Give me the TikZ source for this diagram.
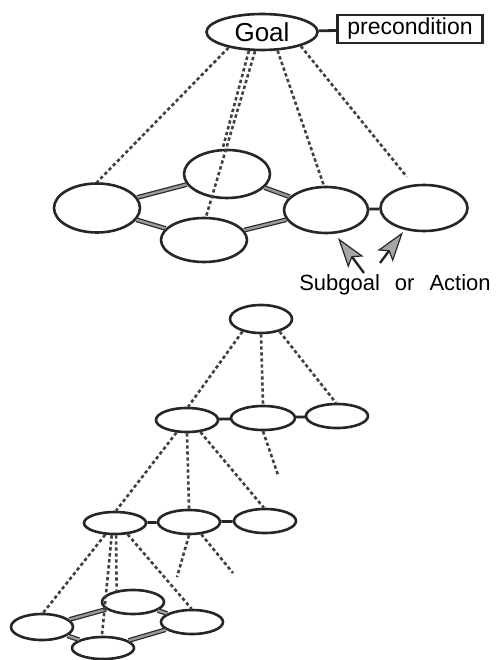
\documentclass[tikz,border=0pt]{standalone}
\usepackage{fontspec}
\setmainfont{Liberation Sans}
\usetikzlibrary{shapes.geometric,arrows.meta}

\begin{document}
\begin{tikzpicture}[x=1pt, y=-1pt, >=stealth, thick,
  bigoval/.style={draw=black!85, line width=2.6pt, ellipse, inner sep=0pt, minimum width=86pt, minimum height=46pt},
  smalloval/.style={draw=black!85, line width=2.6pt, ellipse, inner sep=0pt, minimum width=62pt, minimum height=24pt},
  rail/.style={draw=black!85, line width=1.2pt, double=black!40, double distance=2.4pt},
  bar/.style={draw=black!85, line width=2.8pt},
  dots/.style={draw=black!75, line width=2.6pt, dash pattern=on 3.4pt off 2.6pt},
  pointer/.style={draw=black!85, line width=2.4pt, -{Stealth[length=30pt, width=19pt, inset=6pt, fill=black!35, line width=1.2pt]}}]
\useasboundingbox (0,0) rectangle (503,660);

% goal and its precondition
\node[draw=black!85, line width=2.6pt, ellipse, inner sep=0pt, minimum width=111pt, minimum height=36pt,
      font=\fontsize{26}{30}\selectfont] (goal) at (262,32) {Goal};
\node[draw=black!85, line width=2.6pt, rectangle, inner sep=0pt, minimum width=145pt, minimum height=28pt,
      font=\fontsize{23}{26}\selectfont] (pre) at (410,29) {precondition};
\draw[bar] (goal) -- (pre);

% first expansion
\node[bigoval, minimum height=49pt] (e1) at (97,208) {};
\node[bigoval, minimum height=48pt] (e2) at (227,174) {};
\node[bigoval, minimum height=44pt] (e3) at (204,240) {};
\node[bigoval, minimum width=84pt] (e4) at (326,210) {};
\node[bigoval, minimum width=87pt] (e5) at (424,208) {};
\draw[rail] (e1) -- (e2);
\draw[rail] (e1) -- (e3);
\draw[rail] (e2) -- (e4);
\draw[rail] (e3) -- (e4);
\draw[bar] (e4) -- (e5);
\draw[dots] (goal.205) -- (e1.90);
\draw[dots] (goal.235) -- (e2.100);
\draw[dots] (goal.250) -- (e3.85);
\draw[dots] (goal.310) -- (e4.95);
\draw[dots, shorten >=10pt] (goal.340) -- (e5.115);

% label with its two pointers
\node[font=\fontsize{22}{26}\selectfont, inner sep=0pt] (lbl) at (395,285) {\spaceskip=15pt Subgoal or Action};
\coordinate (t1) at (364,273);
\coordinate (h1) at (338,238);
\coordinate (t2) at (380,263);
\coordinate (h2) at (403,232);
\draw[pointer] (t1) -- (h1);
\draw[pointer] (t2) -- (h2);

% deeper levels
\node[smalloval, minimum height=28pt] (top) at (261,319) {};
\node[smalloval] (a1) at (187,420) {};
\node[smalloval, minimum width=64pt] (a2) at (263,418) {};
\node[smalloval] (a3) at (337,416) {};
\node[smalloval, minimum height=22pt] (b1) at (115,523) {};
\node[smalloval] (b2) at (189,522) {};
\node[smalloval] (b3) at (265,521) {};
\node[smalloval, minimum height=26pt] (c1) at (42,627) {};
\node[smalloval] (c2) at (133,602) {};
\node[smalloval, minimum height=22pt] (c3) at (103,648) {};
\node[smalloval] (c4) at (192,622) {};
\coordinate (x1) at (278,475);
\coordinate (x2) at (177,577);
\coordinate (x3) at (233,573);

\draw[bar] (a1) -- (a2);
\draw[bar] (a2) -- (a3);
\draw[bar] (b1) -- (b2);
\draw[bar] (b2) -- (b3);
\draw[rail] (c1) -- (c2);
\draw[rail] (c1) -- (c3);
\draw[rail] (c2) -- (c4);
\draw[rail] (c3) -- (c4);

\draw[dots] (top.214) -- (a1.85);
\draw[dots] (top.270) -- (a2.90);
\draw[dots] (top.326) -- (a3.95);
\draw[dots] (a2.270) -- (x1);
\draw[dots] (a1.230) -- (b1.85);
\draw[dots] (a1.270) -- (b2.90);
\draw[dots] (a1.318) -- (b3.95);
\draw[dots] (b2.270) -- (x2);
\draw[dots] (b2.315) -- (x3);
\draw[dots] (b1.230) -- (c1.85);
\draw[dots] (b1.255) -- (c3.95);
\draw[dots] (b1.275) -- (c2.145);
\draw[dots] (b1.318) -- (c4.92);
\end{tikzpicture}
\end{document}
